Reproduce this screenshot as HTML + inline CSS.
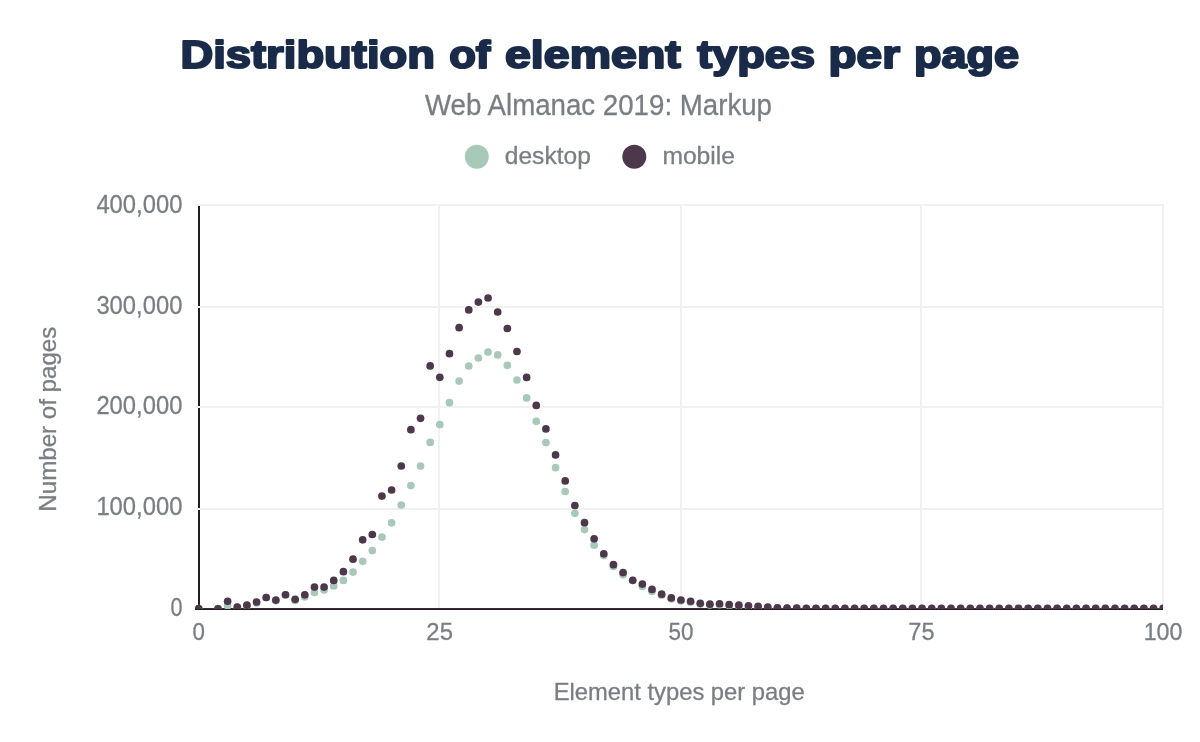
<!DOCTYPE html>
<html><head><meta charset="utf-8"><title>Distribution of element types per page</title>
<style>
html,body{margin:0;padding:0;background:#fff;}
body{width:1200px;height:742px;overflow:hidden;font-family:"Liberation Sans",sans-serif;}
svg{display:block;will-change:transform;}
</style></head><body>
<svg width="1200" height="742" viewBox="0 0 1200 742"><defs><clipPath id="pc"><rect x="195" y="190" width="968" height="419"/></clipPath></defs><g font-family="Liberation Sans" font-weight="bold" font-size="38.2" fill="#1a2b49" stroke="#1a2b49" stroke-width="2.0" stroke-linejoin="round"><text x="180.40" y="67.8" textLength="254.60" lengthAdjust="spacingAndGlyphs">Distribution</text><text x="449.20" y="67.8" textLength="41.20" lengthAdjust="spacingAndGlyphs">of</text><text x="505.00" y="67.8" textLength="175.80" lengthAdjust="spacingAndGlyphs">element</text><text x="697.20" y="67.8" textLength="117.80" lengthAdjust="spacingAndGlyphs">types</text><text x="828.60" y="67.8" textLength="71.40" lengthAdjust="spacingAndGlyphs">per</text><text x="914.00" y="67.8" textLength="105.20" lengthAdjust="spacingAndGlyphs">page</text></g><text x="598.5" y="115" text-anchor="middle" font-family="Liberation Sans" font-size="28.8" fill="#7a7e82" stroke="#7a7e82" stroke-width="0.3" textLength="347" lengthAdjust="spacingAndGlyphs">Web Almanac 2019: Markup</text><circle cx="476.8" cy="156.8" r="12" fill="#a8c9ba"/><text x="504.8" y="163.7" font-family="Liberation Sans" font-size="24.6" fill="#7a7e82" stroke="#7a7e82" stroke-width="0.3" textLength="86" lengthAdjust="spacingAndGlyphs">desktop</text><circle cx="634.3" cy="156.8" r="12" fill="#4c384a"/><text x="662.4" y="163.7" font-family="Liberation Sans" font-size="24.6" fill="#7a7e82" stroke="#7a7e82" stroke-width="0.3" textLength="72.6" lengthAdjust="spacingAndGlyphs">mobile</text><rect x="195" y="204" width="969" height="2" fill="#f0f2f1"/><rect x="195" y="306" width="969" height="2" fill="#f0f2f1"/><rect x="195" y="406" width="969" height="2" fill="#f0f2f1"/><rect x="195" y="508" width="969" height="2" fill="#f0f2f1"/><rect x="438" y="204" width="2" height="404" fill="#f0f2f1"/><rect x="680" y="204" width="2" height="404" fill="#f0f2f1"/><rect x="920" y="204" width="2" height="404" fill="#f0f2f1"/><rect x="1162" y="204" width="2" height="404" fill="#f0f2f1"/><rect x="198" y="206" width="2" height="403" fill="#1e1e1e"/><rect x="195" y="608" width="968" height="1" fill="#3a2a38"/><rect x="195" y="609" width="968" height="1" fill="#211e20"/><rect x="198" y="306" width="2" height="2" fill="#f7f8f8"/><rect x="198" y="406" width="2" height="2" fill="#f7f8f8"/><rect x="198" y="508" width="2" height="2" fill="#f7f8f8"/><g clip-path="url(#pc)"><g fill="#a8c9ba"><circle cx="198.70" cy="608.60" r="3.85"/><circle cx="217.99" cy="608.50" r="3.85"/><circle cx="227.63" cy="605.80" r="3.85"/><circle cx="237.28" cy="607.00" r="3.85"/><circle cx="246.92" cy="605.60" r="3.85"/><circle cx="256.57" cy="602.90" r="3.85"/><circle cx="266.21" cy="597.60" r="3.85"/><circle cx="275.86" cy="600.80" r="3.85"/><circle cx="285.50" cy="594.90" r="3.85"/><circle cx="295.15" cy="600.40" r="3.85"/><circle cx="304.79" cy="597.00" r="3.85"/><circle cx="314.44" cy="592.50" r="3.85"/><circle cx="324.08" cy="590.00" r="3.85"/><circle cx="333.73" cy="586.00" r="3.85"/><circle cx="343.38" cy="580.40" r="3.85"/><circle cx="353.02" cy="572.10" r="3.85"/><circle cx="362.66" cy="561.30" r="3.85"/><circle cx="372.31" cy="550.60" r="3.85"/><circle cx="381.95" cy="537.10" r="3.85"/><circle cx="391.60" cy="522.80" r="3.85"/><circle cx="401.25" cy="505.00" r="3.85"/><circle cx="410.89" cy="485.60" r="3.85"/><circle cx="420.53" cy="466.10" r="3.85"/><circle cx="430.18" cy="442.40" r="3.85"/><circle cx="439.82" cy="424.60" r="3.85"/><circle cx="449.47" cy="402.70" r="3.85"/><circle cx="459.11" cy="381.10" r="3.85"/><circle cx="468.76" cy="366.00" r="3.85"/><circle cx="478.40" cy="358.00" r="3.85"/><circle cx="488.05" cy="352.10" r="3.85"/><circle cx="497.69" cy="354.90" r="3.85"/><circle cx="507.34" cy="365.30" r="3.85"/><circle cx="516.98" cy="380.00" r="3.85"/><circle cx="526.63" cy="397.90" r="3.85"/><circle cx="536.27" cy="421.30" r="3.85"/><circle cx="545.92" cy="442.60" r="3.85"/><circle cx="555.57" cy="467.70" r="3.85"/><circle cx="565.21" cy="491.50" r="3.85"/><circle cx="574.86" cy="513.30" r="3.85"/><circle cx="584.50" cy="529.60" r="3.85"/><circle cx="594.14" cy="545.20" r="3.85"/><circle cx="603.79" cy="555.60" r="3.85"/><circle cx="613.43" cy="566.40" r="3.85"/><circle cx="623.08" cy="574.80" r="3.85"/><circle cx="632.72" cy="580.50" r="3.85"/><circle cx="642.37" cy="586.40" r="3.85"/><circle cx="652.01" cy="591.40" r="3.85"/><circle cx="661.66" cy="595.20" r="3.85"/><circle cx="671.30" cy="599.00" r="3.85"/><circle cx="680.95" cy="601.00" r="3.85"/><circle cx="690.60" cy="602.30" r="3.85"/><circle cx="700.24" cy="604.20" r="3.85"/><circle cx="709.88" cy="605.00" r="3.85"/><circle cx="719.53" cy="604.70" r="3.85"/><circle cx="729.17" cy="605.50" r="3.85"/><circle cx="738.82" cy="606.00" r="3.85"/><circle cx="748.46" cy="606.50" r="3.85"/><circle cx="758.11" cy="607.00" r="3.85"/><circle cx="767.75" cy="607.60" r="3.85"/><circle cx="777.40" cy="608.00" r="3.85"/><circle cx="787.05" cy="608.20" r="3.85"/><circle cx="796.69" cy="608.30" r="3.85"/><circle cx="806.34" cy="608.50" r="3.85"/><circle cx="815.98" cy="608.50" r="3.85"/><circle cx="825.62" cy="608.50" r="3.85"/><circle cx="835.27" cy="608.50" r="3.85"/><circle cx="844.91" cy="608.50" r="3.85"/><circle cx="854.56" cy="608.50" r="3.85"/><circle cx="864.20" cy="608.50" r="3.85"/><circle cx="873.85" cy="608.50" r="3.85"/><circle cx="883.49" cy="608.50" r="3.85"/><circle cx="893.14" cy="608.50" r="3.85"/><circle cx="902.78" cy="608.50" r="3.85"/><circle cx="912.43" cy="608.50" r="3.85"/><circle cx="922.08" cy="608.50" r="3.85"/><circle cx="931.72" cy="608.50" r="3.85"/><circle cx="941.37" cy="608.50" r="3.85"/><circle cx="951.01" cy="608.50" r="3.85"/><circle cx="960.65" cy="608.50" r="3.85"/><circle cx="970.30" cy="608.50" r="3.85"/><circle cx="979.94" cy="608.50" r="3.85"/><circle cx="989.59" cy="608.50" r="3.85"/><circle cx="999.23" cy="608.50" r="3.85"/><circle cx="1008.88" cy="608.50" r="3.85"/><circle cx="1018.52" cy="608.50" r="3.85"/><circle cx="1028.17" cy="608.50" r="3.85"/><circle cx="1037.82" cy="608.50" r="3.85"/><circle cx="1047.46" cy="608.50" r="3.85"/><circle cx="1057.11" cy="608.50" r="3.85"/><circle cx="1066.75" cy="608.50" r="3.85"/><circle cx="1076.39" cy="608.50" r="3.85"/><circle cx="1086.04" cy="608.50" r="3.85"/><circle cx="1095.68" cy="608.50" r="3.85"/><circle cx="1105.33" cy="608.50" r="3.85"/><circle cx="1114.97" cy="608.50" r="3.85"/><circle cx="1124.62" cy="608.50" r="3.85"/><circle cx="1134.26" cy="608.50" r="3.85"/><circle cx="1143.91" cy="608.50" r="3.85"/><circle cx="1153.55" cy="608.50" r="3.85"/><circle cx="1163.20" cy="608.50" r="3.85"/></g><g fill="#4c384a"><circle cx="198.70" cy="608.60" r="3.85"/><circle cx="217.99" cy="608.90" r="3.85"/><circle cx="227.63" cy="601.25" r="3.85"/><circle cx="237.28" cy="607.00" r="3.85"/><circle cx="246.92" cy="605.20" r="3.85"/><circle cx="256.57" cy="602.00" r="3.85"/><circle cx="266.21" cy="597.50" r="3.85"/><circle cx="275.86" cy="600.10" r="3.85"/><circle cx="285.50" cy="594.75" r="3.85"/><circle cx="295.15" cy="599.30" r="3.85"/><circle cx="304.79" cy="594.80" r="3.85"/><circle cx="314.44" cy="587.10" r="3.85"/><circle cx="324.08" cy="587.10" r="3.85"/><circle cx="333.73" cy="580.40" r="3.85"/><circle cx="343.38" cy="571.70" r="3.85"/><circle cx="353.02" cy="559.20" r="3.85"/><circle cx="362.66" cy="539.80" r="3.85"/><circle cx="372.31" cy="534.50" r="3.85"/><circle cx="381.95" cy="496.10" r="3.85"/><circle cx="391.60" cy="490.00" r="3.85"/><circle cx="401.25" cy="466.00" r="3.85"/><circle cx="410.89" cy="429.70" r="3.85"/><circle cx="420.53" cy="418.30" r="3.85"/><circle cx="430.18" cy="365.90" r="3.85"/><circle cx="439.82" cy="377.30" r="3.85"/><circle cx="449.47" cy="353.70" r="3.85"/><circle cx="459.11" cy="327.70" r="3.85"/><circle cx="468.76" cy="309.90" r="3.85"/><circle cx="478.40" cy="302.10" r="3.85"/><circle cx="488.05" cy="298.00" r="3.85"/><circle cx="497.69" cy="312.00" r="3.85"/><circle cx="507.34" cy="328.50" r="3.85"/><circle cx="516.98" cy="351.50" r="3.85"/><circle cx="526.63" cy="377.40" r="3.85"/><circle cx="536.27" cy="405.40" r="3.85"/><circle cx="545.92" cy="428.90" r="3.85"/><circle cx="555.57" cy="454.90" r="3.85"/><circle cx="565.21" cy="480.90" r="3.85"/><circle cx="574.86" cy="505.50" r="3.85"/><circle cx="584.50" cy="522.70" r="3.85"/><circle cx="594.14" cy="538.80" r="3.85"/><circle cx="603.79" cy="553.80" r="3.85"/><circle cx="613.43" cy="564.70" r="3.85"/><circle cx="623.08" cy="572.60" r="3.85"/><circle cx="632.72" cy="580.30" r="3.85"/><circle cx="642.37" cy="584.10" r="3.85"/><circle cx="652.01" cy="589.40" r="3.85"/><circle cx="661.66" cy="594.20" r="3.85"/><circle cx="671.30" cy="597.90" r="3.85"/><circle cx="680.95" cy="600.00" r="3.85"/><circle cx="690.60" cy="601.25" r="3.85"/><circle cx="700.24" cy="603.30" r="3.85"/><circle cx="709.88" cy="604.20" r="3.85"/><circle cx="719.53" cy="603.75" r="3.85"/><circle cx="729.17" cy="604.70" r="3.85"/><circle cx="738.82" cy="605.20" r="3.85"/><circle cx="748.46" cy="605.75" r="3.85"/><circle cx="758.11" cy="606.40" r="3.85"/><circle cx="767.75" cy="607.20" r="3.85"/><circle cx="777.40" cy="607.80" r="3.85"/><circle cx="787.05" cy="608.00" r="3.85"/><circle cx="796.69" cy="608.20" r="3.85"/><circle cx="806.34" cy="608.40" r="3.85"/><circle cx="815.98" cy="608.40" r="3.85"/><circle cx="825.62" cy="608.40" r="3.85"/><circle cx="835.27" cy="608.40" r="3.85"/><circle cx="844.91" cy="608.40" r="3.85"/><circle cx="854.56" cy="608.40" r="3.85"/><circle cx="864.20" cy="608.40" r="3.85"/><circle cx="873.85" cy="608.40" r="3.85"/><circle cx="883.49" cy="608.40" r="3.85"/><circle cx="893.14" cy="608.40" r="3.85"/><circle cx="902.78" cy="608.40" r="3.85"/><circle cx="912.43" cy="608.40" r="3.85"/><circle cx="922.08" cy="608.40" r="3.85"/><circle cx="931.72" cy="608.40" r="3.85"/><circle cx="941.37" cy="608.40" r="3.85"/><circle cx="951.01" cy="608.40" r="3.85"/><circle cx="960.65" cy="608.40" r="3.85"/><circle cx="970.30" cy="608.40" r="3.85"/><circle cx="979.94" cy="608.40" r="3.85"/><circle cx="989.59" cy="608.40" r="3.85"/><circle cx="999.23" cy="608.40" r="3.85"/><circle cx="1008.88" cy="608.40" r="3.85"/><circle cx="1018.52" cy="608.40" r="3.85"/><circle cx="1028.17" cy="608.40" r="3.85"/><circle cx="1037.82" cy="608.40" r="3.85"/><circle cx="1047.46" cy="608.40" r="3.85"/><circle cx="1057.11" cy="608.40" r="3.85"/><circle cx="1066.75" cy="608.40" r="3.85"/><circle cx="1076.39" cy="608.40" r="3.85"/><circle cx="1086.04" cy="608.40" r="3.85"/><circle cx="1095.68" cy="608.40" r="3.85"/><circle cx="1105.33" cy="608.40" r="3.85"/><circle cx="1114.97" cy="608.40" r="3.85"/><circle cx="1124.62" cy="608.40" r="3.85"/><circle cx="1134.26" cy="608.40" r="3.85"/><circle cx="1143.91" cy="608.40" r="3.85"/><circle cx="1153.55" cy="608.40" r="3.85"/><circle cx="1163.20" cy="608.40" r="3.85"/></g></g><text x="182.4" y="213.2" text-anchor="end" font-family="Liberation Sans" font-size="25" fill="#7a7e82" stroke="#7a7e82" stroke-width="0.3" textLength="86" lengthAdjust="spacingAndGlyphs">400,000</text><text x="182.4" y="314.2" text-anchor="end" font-family="Liberation Sans" font-size="25" fill="#7a7e82" stroke="#7a7e82" stroke-width="0.3" textLength="86" lengthAdjust="spacingAndGlyphs">300,000</text><text x="182.4" y="414.0" text-anchor="end" font-family="Liberation Sans" font-size="25" fill="#7a7e82" stroke="#7a7e82" stroke-width="0.3" textLength="86" lengthAdjust="spacingAndGlyphs">200,000</text><text x="182.4" y="515.0" text-anchor="end" font-family="Liberation Sans" font-size="25" fill="#7a7e82" stroke="#7a7e82" stroke-width="0.3" textLength="86" lengthAdjust="spacingAndGlyphs">100,000</text><text x="182.4" y="615.9" text-anchor="end" font-family="Liberation Sans" font-size="25" fill="#7a7e82" stroke="#7a7e82" stroke-width="0.3" textLength="12" lengthAdjust="spacingAndGlyphs">0</text><text x="198.75" y="640.0" text-anchor="middle" font-family="Liberation Sans" font-size="24.5" fill="#7a7e82" stroke="#7a7e82" stroke-width="0.3" textLength="12.4" lengthAdjust="spacingAndGlyphs">0</text><text x="439.65" y="640.0" text-anchor="middle" font-family="Liberation Sans" font-size="24.5" fill="#7a7e82" stroke="#7a7e82" stroke-width="0.3" textLength="26.6" lengthAdjust="spacingAndGlyphs">25</text><text x="681.05" y="640.0" text-anchor="middle" font-family="Liberation Sans" font-size="24.5" fill="#7a7e82" stroke="#7a7e82" stroke-width="0.3" textLength="25.0" lengthAdjust="spacingAndGlyphs">50</text><text x="921.45" y="640.0" text-anchor="middle" font-family="Liberation Sans" font-size="24.5" fill="#7a7e82" stroke="#7a7e82" stroke-width="0.3" textLength="26.2" lengthAdjust="spacingAndGlyphs">75</text><text x="1163.05" y="640.0" text-anchor="middle" font-family="Liberation Sans" font-size="24.5" fill="#7a7e82" stroke="#7a7e82" stroke-width="0.3" textLength="38.8" lengthAdjust="spacingAndGlyphs">100</text><text x="679.2" y="699.9" text-anchor="middle" font-family="Liberation Sans" font-size="23.8" fill="#7a7e82" stroke="#7a7e82" stroke-width="0.3" textLength="251" lengthAdjust="spacingAndGlyphs">Element types per page</text><text transform="translate(55.8 419.2) rotate(-90)" text-anchor="middle" font-family="Liberation Sans" font-size="24" fill="#7a7e82" stroke="#7a7e82" stroke-width="0.3" textLength="185" lengthAdjust="spacingAndGlyphs">Number of pages</text></svg>
</body></html>
